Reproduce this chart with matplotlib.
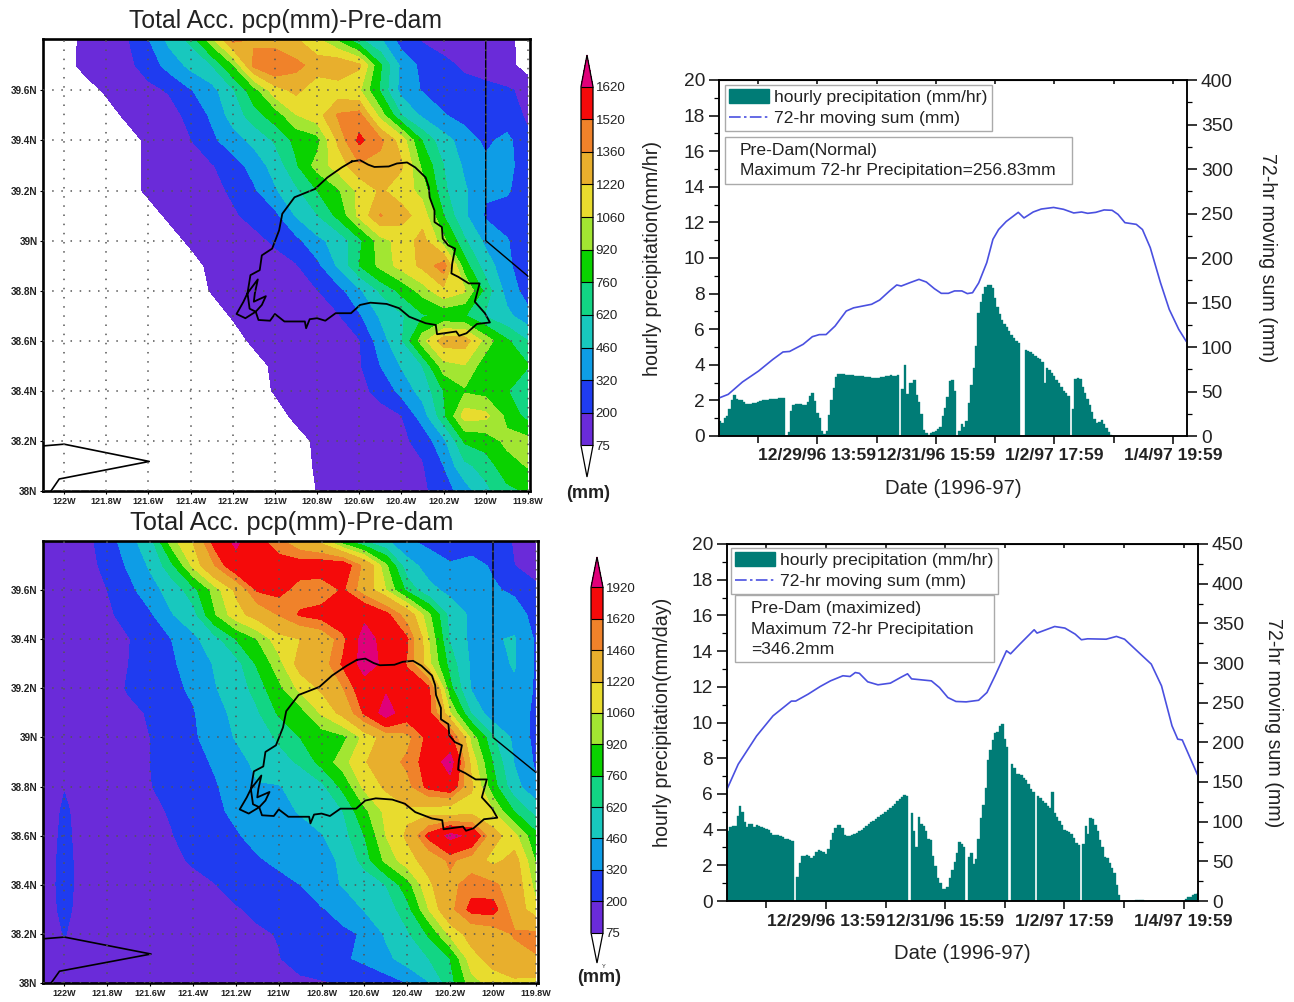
# Pre-dam precipitation maps and hourly series, 1996-97 storm
import matplotlib
matplotlib.use('Agg')
import matplotlib.pyplot as plt
from matplotlib.lines import Line2D
from matplotlib.patches import Patch, Rectangle
import numpy as np

plt.rcParams['font.family'] = ['Liberation Sans', 'DejaVu Sans']

W, H = 1294, 1002

# ---- map data
lon = [-122.1, -122.0, -121.9, -121.8, -121.7, -121.6, -121.5, -121.4, -121.3, -121.2, -121.1, -121.0,
       -120.9, -120.8, -120.7, -120.6, -120.5, -120.4, -120.3, -120.2, -120.1, -120.0, -119.9, -119.8]
lat = [39.8, 39.7, 39.6, 39.5, 39.4, 39.3, 39.2, 39.1, 39.0, 38.9,
       38.8, 38.7, 38.6, 38.5, 38.4, 38.3, 38.2, 38.1, 38.0]

# total accumulation, one row per latitude (north first), 0 = no data/white
pcp_normal = [
    [0, 0, 120, 130, 190, 310, 500, 650, 1000, 1400, 1340, 1280, 1240, 1100, 900, 650, 480, 260, 190, 150, 130, 130, 120, 0],
    [0, 0, 130, 140, 170, 250, 370, 500, 620, 900, 1400, 1520, 1400, 1300, 1350, 1250, 780, 420, 280, 230, 180, 150, 130, 0],
    [0, 0, 0, 100, 130, 170, 210, 310, 400, 600, 850, 1150, 1260, 1120, 1130, 1080, 740, 400, 310, 260, 240, 230, 210, 180],
    [0, 0, 0, 0, 110, 130, 160, 230, 340, 520, 700, 830, 1050, 1150, 1380, 1420, 1000, 620, 430, 330, 270, 250, 230, 190],
    [0, 0, 0, 0, 0, 110, 160, 195, 290, 390, 500, 640, 800, 860, 1250, 1560, 1400, 1150, 750, 520, 390, 290, 360, 210],
    [0, 0, 0, 0, 0, 115, 140, 170, 190, 260, 370, 520, 740, 980, 1130, 1340, 1300, 1240, 880, 620, 430, 350, 370, 230],
    [0, 0, 0, 0, 0, 110, 140, 160, 180, 210, 300, 440, 590, 760, 900, 1100, 1240, 1150, 1000, 650, 480, 340, 340, 220],
    [0, 0, 0, 0, 0, 0, 110, 140, 170, 190, 220, 280, 470, 610, 800, 1100, 1370, 1280, 1150, 760, 480, 300, 250, 210],
    [0, 0, 0, 0, 0, 0, 0, 110, 140, 160, 180, 210, 280, 420, 520, 720, 1000, 1120, 1280, 960, 640, 420, 330, 230],
    [0, 0, 0, 0, 0, 0, 0, 0, 120, 140, 160, 175, 190, 280, 480, 760, 960, 1120, 1260, 1440, 820, 540, 350, 230],
    [0, 0, 0, 0, 0, 0, 0, 0, 85, 130, 150, 165, 180, 195, 270, 430, 640, 800, 980, 1180, 1080, 700, 400, 260],
    [0, 0, 0, 0, 0, 0, 0, 0, 0, 90, 130, 150, 160, 170, 190, 300, 480, 600, 740, 800, 770, 600, 500, 360],
    [0, 0, 0, 0, 0, 0, 0, 0, 0, 0, 110, 130, 150, 165, 175, 190, 380, 600, 1000, 1300, 1300, 1000, 780, 620],
    [0, 0, 0, 0, 0, 0, 0, 0, 0, 0, 0, 110, 130, 150, 165, 185, 320, 470, 620, 1000, 1050, 830, 800, 770],
    [0, 0, 0, 0, 0, 0, 0, 0, 0, 0, 0, 90, 130, 150, 165, 180, 220, 360, 520, 760, 900, 860, 770, 640],
    [0, 0, 0, 0, 0, 0, 0, 0, 0, 0, 0, 0, 115, 135, 150, 165, 175, 195, 380, 720, 1130, 1100, 880, 700],
    [0, 0, 0, 0, 0, 0, 0, 0, 0, 0, 0, 0, 0, 110, 140, 160, 170, 180, 230, 420, 780, 830, 960, 970],
    [0, 0, 0, 0, 0, 0, 0, 0, 0, 0, 0, 0, 0, 95, 130, 150, 165, 175, 190, 320, 580, 680, 850, 930],
    [0, 0, 0, 0, 0, 0, 0, 0, 0, 0, 0, 0, 0, 78, 100, 130, 150, 160, 175, 260, 380, 580, 720, 780],
]

# same, bottom map
pcp_max = [
    [100, 120, 170, 250, 400, 560, 1000, 1230, 1700, 1980, 1700, 1500, 1300, 1150, 800, 600, 480, 340, 280, 260, 240, 230, 195, 170],
    [100, 120, 160, 230, 340, 480, 720, 1090, 1450, 1800, 1780, 1720, 1720, 1760, 1760, 1400, 950, 520, 400, 330, 370, 300, 200, 160],
    [95, 115, 150, 200, 280, 400, 520, 700, 980, 1250, 1640, 1680, 1540, 1500, 1640, 1350, 1060, 720, 500, 420, 360, 340, 290, 220],
    [95, 115, 140, 180, 240, 300, 450, 560, 900, 1150, 1300, 1470, 1640, 1700, 1800, 1850, 1680, 1350, 950, 560, 430, 410, 400, 260],
    [90, 110, 135, 165, 195, 260, 320, 420, 560, 760, 920, 1150, 1220, 1300, 1560, 2050, 1800, 1640, 1060, 600, 420, 450, 470, 300],
    [90, 105, 130, 155, 200, 250, 300, 380, 470, 560, 780, 1000, 1300, 1350, 1650, 2050, 1850, 1600, 1100, 700, 430, 420, 470, 300],
    [85, 100, 125, 155, 210, 250, 290, 340, 450, 530, 680, 880, 1100, 1250, 1450, 1780, 1880, 1720, 1660, 800, 440, 400, 440, 300],
    [80, 95, 120, 145, 175, 210, 260, 310, 400, 500, 600, 780, 850, 1080, 1280, 1650, 2050, 1740, 1680, 1060, 600, 350, 370, 300],
    [80, 90, 115, 140, 170, 200, 250, 300, 380, 470, 550, 640, 760, 830, 880, 1100, 1300, 1400, 1680, 1700, 1000, 640, 420, 280],
    [78, 85, 110, 135, 165, 200, 250, 290, 330, 400, 500, 570, 640, 810, 1000, 1200, 1370, 1500, 1720, 2050, 1150, 750, 450, 300],
    [78, 190, 110, 130, 155, 195, 240, 280, 310, 360, 450, 450, 520, 580, 800, 1100, 1250, 1400, 1680, 1800, 1250, 820, 520, 330],
    [78, 230, 110, 125, 150, 175, 210, 270, 300, 340, 400, 420, 470, 550, 620, 880, 1100, 1180, 1120, 1050, 1130, 1060, 750, 560],
    [78, 250, 100, 120, 140, 165, 195, 240, 280, 310, 350, 380, 410, 450, 560, 760, 1060, 1250, 1680, 2000, 1850, 1300, 1100, 800],
    [78, 270, 95, 115, 135, 150, 180, 210, 250, 290, 310, 340, 370, 420, 480, 680, 960, 1150, 1300, 1500, 1350, 1150, 1300, 900],
    [78, 280, 90, 110, 125, 140, 155, 175, 195, 240, 270, 290, 320, 400, 470, 520, 620, 850, 1180, 1400, 1550, 1500, 1350, 1000],
    [78, 260, 85, 105, 120, 130, 145, 160, 175, 190, 220, 260, 290, 310, 360, 470, 540, 700, 1060, 1400, 1680, 1700, 1350, 1100],
    [78, 210, 85, 100, 115, 125, 135, 145, 160, 170, 185, 205, 250, 280, 300, 330, 480, 600, 780, 1100, 1300, 1350, 1480, 1500],
    [78, 85, 85, 95, 110, 120, 130, 140, 150, 160, 175, 195, 240, 270, 300, 350, 420, 530, 620, 760, 1150, 1300, 1380, 1450],
    [78, 80, 85, 90, 100, 110, 120, 130, 140, 150, 160, 170, 180, 190, 205, 220, 260, 320, 450, 700, 1000, 1120, 1180, 1150],
]

levels_normal = [75, 200, 320, 460, 620, 760, 920, 1060, 1220, 1360, 1520, 1620]
levels_max = [75, 200, 320, 460, 620, 760, 920, 1060, 1220, 1460, 1620, 1920]
band_colors = ['#6A2BD9', '#1F3CF0', '#0E9DE6', '#18C8BE', '#12D584', '#0AD200',
               '#A2E632', '#E8DC2E', '#E8AF2D', '#F0822A', '#F50A0A']
over_color = '#E0007A'

# watershed outline, state line and bay
basin_lon = [-120.635, -120.596, -120.557, -120.528, -120.46, -120.421, -120.373, -120.334, -120.285, -120.27,
             -120.266, -120.243, -120.243, -120.208, -120.204, -120.178, -120.145, -120.159, -120.163, -120.13,
             -120.081, -120.029, -120.052, -120.004, -119.98, -120.042, -120.091, -120.126, -120.14, -120.231,
             -120.237, -120.285, -120.363, -120.411, -120.47, -120.547, -120.596, -120.639, -120.712, -120.761,
             -120.8, -120.835, -120.852, -120.858, -120.955, -121.0, -121.023, -121.078, -121.091, -121.14,
             -121.182, -121.149, -121.13, -121.081, -121.095, -121.1, -121.043, -121.062, -121.091, -121.12,
             -121.13, -121.116, -121.072, -121.062, -121.013, -120.98, -120.965, -120.907, -120.81, -120.751,
             -120.683, -120.635]
basin_lat = [39.316, 39.321, 39.303, 39.294, 39.296, 39.308, 39.312, 39.292, 39.252, 39.213,
             39.173, 39.12, 39.074, 39.054, 39.008, 38.981, 38.968, 38.908, 38.869, 38.855,
             38.829, 38.829, 38.756, 38.71, 38.673, 38.667, 38.63, 38.62, 38.637, 38.626,
             38.663, 38.67, 38.696, 38.73, 38.747, 38.752, 38.743, 38.71, 38.71, 38.68,
             38.69, 38.686, 38.65, 38.677, 38.677, 38.707, 38.68, 38.683, 38.716, 38.69,
             38.707, 38.756, 38.79, 38.845, 38.79, 38.756, 38.778, 38.743, 38.716, 38.728,
             38.79, 38.862, 38.882, 38.941, 38.968, 39.041, 39.107, 39.173, 39.206, 39.252,
             39.292, 39.316]
state_lon = [-120.0, -120.0, -119.8]
state_lat = [39.8, 39.0, 38.858]
bay_lon = [-122.1, -122.0, -121.596, -122.023, -122.062]
bay_lat = [38.18, 38.187, 38.118, 38.048, 38.0]

lon_ticks = [-122, -121.8, -121.6, -121.4, -121.2, -121, -120.8, -120.6, -120.4, -120.2, -120, -119.8]
lon_labels = ['122W', '121.8W', '121.6W', '121.4W', '121.2W', '121W', '120.8W', '120.6W', '120.4W', '120.2W', '120W', '119.8W']
lat_ticks = [38, 38.2, 38.4, 38.6, 38.8, 39, 39.2, 39.4, 39.6]
lat_labels = ['38N', '38.2N', '38.4N', '38.6N', '38.8N', '39N', '39.2N', '39.4N', '39.6N']

# ---- hourly series (one bar per hour)
hourly_normal = [0.85, 0.75, 1.0, 1.1, 1.5, 2.0, 2.3, 2.1, 2.05, 2.0, 1.9, 1.8, 1.78, 1.8, 1.83, 1.87, 1.93, 1.98, 2.03, 2.05,
                 2.05, 2.07, 2.08, 2.09, 2.1, 2.12, 2.13, 2.14, 0, 0.2, 1.4, 1.75, 1.8, 1.8, 1.78, 1.75, 1.72, 1.9, 2.25, 2.4,
                 1.95, 1.3, 1.0, 0.3, 0.1, 0.3, 1.2, 2.0, 2.7, 3.3, 3.5, 3.48, 3.46, 3.44, 3.42, 3.41, 3.4, 3.38, 3.37, 3.36,
                 3.35, 3.33, 3.31, 3.29, 3.28, 3.27, 3.27, 3.28, 3.3, 3.32, 3.35, 3.38, 3.45, 3.38, 3.36, 3.4, 0, 2.65, 4.0, 2.35,
                 3.0, 2.95, 3.15, 2.3, 1.9, 1.25, 0.35, 0.15, 0.05, 0.15, 0.25, 0.3, 0.4, 0.5, 1.1, 1.6, 2.2, 3.1, 3.15, 2.55,
                 0, 0.3, 0.7, 0.5, 0.85, 1.85, 2.85, 3.8, 5.05, 6.9, 7.55, 8.0, 8.35, 8.5, 8.5, 8.3, 7.75, 7.25, 6.85, 6.5,
                 6.3, 6.1, 5.9, 5.65, 5.5, 5.35, 5.2, 0, 0, 4.85, 4.78, 4.7, 4.6, 4.5, 4.4, 4.3, 4.15, 3.0, 3.8, 3.7,
                 3.55, 3.35, 3.15, 2.95, 2.75, 2.55, 2.4, 2.25, 0, 1.5, 3.2, 3.25, 3.2, 2.75, 2.4, 2.1, 1.75, 1.35, 0.95, 0.75,
                 0.8, 0.9, 0.65, 0.45, 0.2, 0.03, 0, 0, 0, 0, 0, 0, 0, 0, 0, 0, 0, 0, 0, 0,
                 0, 0, 0, 0, 0, 0, 0, 0, 0, 0, 0, 0, 0, 0, 0, 0, 0, 0]
hourly_max = [3.9, 4.13, 4.22, 4.2, 4.77, 5.35, 4.97, 4.4, 4.17, 4.33, 4.33, 4.17, 4.26, 4.2, 4.15, 4.1, 4.05, 3.95, 3.83, 3.7,
              3.7, 3.68, 3.65, 3.57, 3.5, 3.46, 3.4, 3.35, 0, 1.37, 2.15, 2.5, 2.52, 2.58, 2.5, 2.4, 2.5, 2.77, 2.86, 2.82,
              2.73, 2.63, 2.9, 3.42, 3.8, 4.07, 4.26, 4.26, 4.1, 3.7, 3.65, 3.65, 3.7, 3.75, 3.82, 3.9, 4.0, 4.1, 4.2, 4.3,
              4.4, 4.5, 4.6, 4.7, 4.8, 4.9, 5.0, 5.1, 5.2, 5.32, 5.45, 5.58, 5.7, 5.85, 5.95, 5.9, 0, 4.92, 3.9, 3.05,
              4.7, 4.32, 4.2, 3.9, 3.5, 3.4, 2.5, 1.95, 1.27, 1.0, 0.7, 0.65, 0.8, 1.27, 1.74, 2.2, 2.67, 3.29, 3.18, 3.0,
              0, 2.49, 2.67, 2.1, 2.35, 3.48, 4.67, 5.38, 6.32, 7.9, 8.47, 9.03, 9.4, 9.46, 9.78, 9.94, 9.08, 8.6, 0, 7.66,
              7.44, 7.1, 7.14, 7.07, 6.9, 6.8, 6.54, 6.28, 6.13, 0, 5.87, 5.76, 5.6, 5.48, 5.35, 5.23, 6.13, 4.92, 4.73, 4.49,
              4.26, 3.98, 3.93, 3.89, 3.74, 3.55, 3.23, 3.14, 0, 3.18, 4.2, 3.74, 4.67, 4.6, 4.26, 3.94, 3.42, 3.05, 2.45, 2.39,
              2.11, 1.87, 1.55, 0.9, 0.34, 0.02, 0, 0, 0, 0, 0, 0.03, 0.05, 0.05, 0.04, 0.02, 0, 0, 0, 0,
              0, 0, 0, 0, 0, 0, 0, 0, 0, 0, 0, 0, 0.1, 0.2, 0.25, 0.35, 0.4, 0.45]

sum_hours_normal = [0, 3.9, 9.9, 16.7, 22.7, 27, 29.8, 35.5, 39.4, 42.3, 45.2, 49, 53.7, 56.8, 64.4, 67.8, 72, 75, 76.9, 80.6,
                    84.4, 87.5, 90.9, 93.8, 96.8, 99.4, 102.5, 104.8, 107, 109.6, 113, 115.6, 118, 121.2, 126.3, 128.7, 132.6,
                    136, 141.2, 145.4, 149.7, 153, 155.6, 159, 162.5, 165.9, 168.4, 171.3, 176.1, 178.7, 182, 186.3, 190, 194, 197.1]
sum_normal = [42.7, 46.8, 60.7, 73, 86, 94.4, 95, 103, 111.6, 113.9, 114, 123.6, 140.4, 144, 148, 152.8, 163, 169.7, 168.5, 172.3,
              176, 173, 165.5, 160.3, 160.3, 163, 163, 160, 161, 172, 194.8, 221, 232, 241, 251.3, 245, 251.7,
              255, 256.8, 254.7, 250.6, 251.7, 250.2, 251.3, 254, 253.6, 249, 239.7, 237.8, 232, 211.6, 172.3, 142.3, 119.9, 106.7]
sum_hours_max = [0, 4.7, 12.4, 19.3, 27, 28.8, 34, 39.1, 43.4, 48.6, 51.6, 53.8, 55.5, 59, 63.3, 68.5, 72.8, 75.7, 77.4, 81.4,
                 85.7, 89.1, 92.6, 96, 100.3, 105.5, 109, 112.4, 117.2, 118.9, 122.8, 128.8, 130, 137.4, 141.7, 146, 148.6,
                 151.2, 159, 163.3, 166.7, 171.9, 177.9, 182.2, 186.6, 189, 190.9, 197.2]
sum_max = [140.9, 172.4, 208, 233.4, 252, 252, 260.7, 270.4, 277.5, 283.9, 283, 288, 287, 276.3, 272.5, 274.6, 281.8, 286.4, 280, 278.8,
           277.5, 269, 256.5, 251.5, 251, 253, 262.8, 283.9, 315.4, 311.6, 323.8, 341.9, 337.7, 346, 344, 336.4, 329.3,
           330.5, 330, 333.5, 330, 315.4, 298.6, 271.2, 220.8, 204, 203, 159.8]

label_hours = [41.5, 91.5, 141.5, 191.5]
label_dates = ['12/29/96 13:59', '12/31/96 15:59', '1/2/97 17:59', '1/4/97 19:59']
minor_hours = [16.5, 66.5, 116.5, 166.5]
TEAL = '#007C76'
BLUE = '#4A50E0'


def rect(x0, y0, x1, y1):
    # pixel box (y from the top) to figure fractions
    return [x0 / W, 1 - y1 / H, (x1 - x0) / W, (y1 - y0) / H]


def put(x, y, s, **kw):
    kw.setdefault('va', 'center')
    fig.text(x / W, 1 - y / H, s, **kw)


def draw_map(box, field, levels, lat_top, cbar_box, title, title_xy, title_size, unit_xy):
    ax = fig.add_axes(rect(*box))
    z = np.array(field, dtype=float)
    cf = ax.contourf(lon, lat, z, levels=levels, colors=['white'] + band_colors + [over_color], extend='both')
    ax.set_xlim(-122.1, -119.79)
    ax.set_ylim(38, lat_top)
    ax.plot(basin_lon, basin_lat, color='black', lw=1.3)
    ax.plot(state_lon, state_lat, color='black', lw=1.0)
    ax.plot(bay_lon, bay_lat, color='black', lw=1.2, clip_on=True)
    ax.set_xticks(lon_ticks)
    ax.set_xticklabels(lon_labels, fontsize=6.5, fontweight='bold', color='#222222')
    ax.set_yticks(lat_ticks)
    ax.set_yticklabels(lat_labels, fontsize=7.2, fontweight='bold', color='#222222')
    ax.tick_params(length=2, width=0.8, pad=2)
    ax.grid(True, color='#555555', lw=1.1, linestyle=(0, (1, 5)))
    ax.set_axisbelow(False)
    for sp in ax.spines.values():
        sp.set_linewidth(1.9)
    cax = fig.add_axes(rect(*cbar_box))
    cb = fig.colorbar(cf, cax=cax, extendfrac=0.088, drawedges=True, ticks=levels)
    cb.set_ticklabels([str(v) for v in levels])
    cb.ax.tick_params(length=0, labelsize=9.6, pad=2, labelcolor='#222222')
    cb.dividers.set_linewidth(0.8)
    cb.outline.set_linewidth(0.9)
    put(title_xy[0], title_xy[1], title, fontsize=title_size, ha='center', color='#222222')
    put(unit_xy[0], unit_xy[1], '(mm)', fontsize=13, fontweight='bold', ha='center', color='#222222')
    return ax


def draw_series(box, hourly, sum_hours, moving_sum, right_max, ylabel, left_pad, right_pad):
    ax = fig.add_axes(rect(*box))
    hours = np.arange(len(hourly)) + 0.5
    ax.bar(hours, hourly, width=1.0, color=TEAL, edgecolor=TEAL, linewidth=0.25)
    ax.set_xlim(0, 197.5)
    ax.set_ylim(0, 20)
    ax.set_yticks(np.arange(0, 21, 2))
    ax.set_yticks(np.arange(0, 21, 1), minor=True)
    ax.set_xticks(label_hours)
    ax.set_xticklabels(label_dates, fontsize=12.6, fontweight='bold', color='#222222')
    ax.set_xticks(minor_hours, minor=True)
    ax.tick_params(axis='y', which='major', length=7, width=1.1, labelsize=13.8, pad=3, labelcolor='#222222')
    ax.tick_params(axis='y', which='minor', length=3.5, width=0.9)
    ax.tick_params(axis='x', which='major', length=6, width=1.1, pad=3)
    ax.tick_params(axis='x', which='minor', length=5, width=1.1)
    ax.set_xlabel('Date (1996-97)', fontsize=14.6, color='#222222', labelpad=11)
    ax.set_ylabel(ylabel, fontsize=14.1, color='#222222', labelpad=left_pad)
    top = ax.secondary_xaxis('top')
    top.set_xticks(label_hours + minor_hours)
    top.set_xticklabels([])
    top.tick_params(direction='in', length=3, width=1.1)
    ax2 = ax.twinx()
    ax2.plot(sum_hours, moving_sum, color=BLUE, lw=1.2)
    ax2.set_ylim(0, right_max)
    ax2.set_yticks(np.arange(0, right_max + 1, 50))
    ax2.set_yticks(np.arange(0, right_max + 1, 25), minor=True)
    ax2.tick_params(axis='y', which='major', length=7, width=1.1, labelsize=13.8, pad=3, labelcolor='#222222')
    ax2.tick_params(axis='y', which='minor', length=3.5, width=0.9)
    ax2.set_ylabel('72-hr moving sum (mm)', fontsize=14.1, rotation=270, color='#222222', labelpad=right_pad)
    for a in (ax, ax2):
        for sp in a.spines.values():
            sp.set_linewidth(1.1)
    return ax, ax2


def add_legend(ax2, corner):
    handles = [Patch(facecolor=TEAL, edgecolor=TEAL),
               Line2D([0], [0], color=BLUE, lw=1.2, linestyle=(0, (7, 2, 1.5, 2)))]
    names = ['hourly precipitation (mm/hr)', '72-hr moving sum (mm)']
    leg = ax2.legend(handles, names, loc='upper left', bbox_to_anchor=(corner[0] / W, 1 - corner[1] / H),
                     bbox_transform=fig.transFigure, fontsize=12.6, frameon=True, fancybox=False, framealpha=1,
                     edgecolor='#AAAAAA', borderaxespad=0, borderpad=0.25, labelspacing=0.28,
                     handlelength=2.25, handleheight=0.85, handletextpad=0.3)
    leg.get_frame().set_linewidth(1.0)
    for t in leg.get_texts():
        t.set_color('#222222')


def add_note(box, text_x, lines):
    fig.add_artist(Rectangle((box[0] / W, 1 - box[3] / H), (box[2] - box[0]) / W, (box[3] - box[1]) / H,
                             transform=fig.transFigure, facecolor='white', edgecolor='#AAAAAA', lw=1.0, zorder=5))
    for y, s in lines:
        put(text_x, y, s, fontsize=12.6, color='#222222', zorder=6)


fig = plt.figure(figsize=(W / 100, H / 100), dpi=100, facecolor='white')

draw_map((43, 39, 530, 491), pcp_normal, levels_normal, 39.805, (581, 55, 593, 477),
         'Total Acc. pcp(mm)-Pre-dam', (285.5, 21), 17.8, (588, 494))
draw_map((43, 541, 538, 983), pcp_max, levels_max, 39.8, (591, 557, 603, 963),
         'Total Acc. pcp(mm)-Pre-dam', (292, 523), 18.4, (599, 978))
put(604, 966, 'Y', fontsize=4, ha='center', color='#222222')

ax_a, ax_a2 = draw_series((719, 80, 1187, 436), hourly_normal, sum_hours_normal, sum_normal, 400,
                          'hourly precipitation(mm/hr)', 16, 32)
add_legend(ax_a2, (725, 85))
add_note((725, 137, 1072, 184), 740, [(151, 'Pre-Dam(Normal)'), (171, 'Maximum 72-hr Precipitation=256.83mm')])

ax_b, ax_b2 = draw_series((727, 544, 1198, 901), hourly_max, sum_hours_max, sum_max, 450,
                          'hourly precipitation(mm/day)', 14, 28)
add_legend(ax_b2, (731, 548))
add_note((735, 595, 994, 662), 751, [(609, 'Pre-Dam (maximized)'), (629.5, 'Maximum 72-hr Precipitation'), (649.5, '=346.2mm')])

fig.savefig('out.png', dpi=100)
